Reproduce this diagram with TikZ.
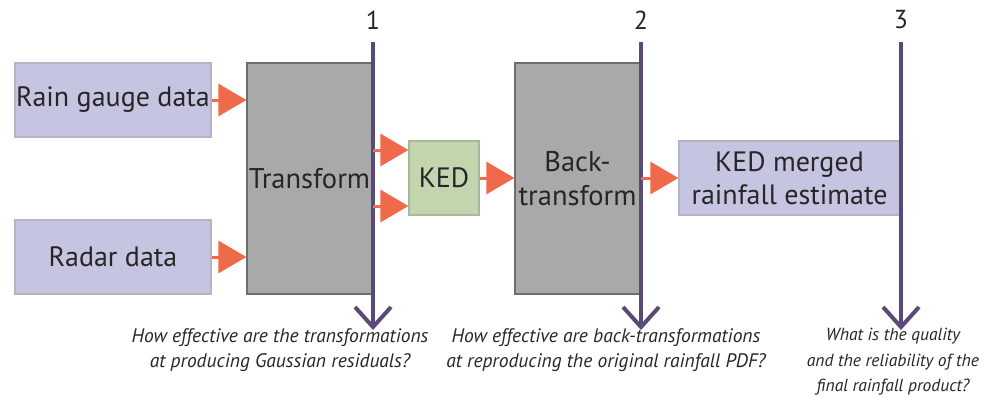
\documentclass[tikz,border=0pt]{standalone}
\usepackage{fontspec}
\setmainfont{PT Sans}
\usetikzlibrary{arrows.meta}
\definecolor{lav}{HTML}{C5C5E2}
\definecolor{lavb}{HTML}{B4B4C4}
\definecolor{grayf}{HTML}{A9A9A9}
\definecolor{grayb}{HTML}{6E6E6E}
\definecolor{grn}{HTML}{C2D5AE}
\definecolor{grnb}{HTML}{A8B69A}
\definecolor{org}{HTML}{EE6A4B}
\definecolor{prp}{HTML}{5A4A78}
\begin{document}
\begin{tikzpicture}[x=1pt,y=-1pt,
  databox/.style={draw=lavb,line width=1.2pt,fill=lav,minimum width=196pt,minimum height=74pt,inner sep=0pt,font=\fontsize{28}{33}\selectfont,text=black!85},
  procbox/.style={draw=grayb,line width=1.2pt,fill=grayf,minimum width=125pt,minimum height=231pt,inner sep=0pt,align=center,font=\fontsize{28.5}{34}\selectfont,text=black!85},
  kedbox/.style={draw=grnb,line width=1.2pt,fill=grn,minimum width=70pt,minimum height=74pt,inner sep=0pt,font=\fontsize{28}{33}\selectfont,text=black!85},
  outbox/.style={draw=lavb,line width=1.2pt,fill=lav,minimum width=221pt,minimum height=74pt,inner sep=0pt,align=center,font=\fontsize{28}{33}\selectfont,text=black!85},
  flow/.style={draw=org,line width=3pt,-{Triangle[length=28pt,width=32pt]},shorten >=0pt},
  checkline/.style={draw=prp,line width=4pt,-{Straight Barb[length=20pt,width=36pt,line width=4pt]}},
  numlabel/.style={font=\fontsize{26}{30}\selectfont,text=black!85},
  question/.style={align=center,font=\fontsize{19.5}{25.5}\selectfont\itshape,text=black!85}
]
\useasboundingbox (0,0) rectangle (987,397);
\node[databox] (rg) at (113,100) {Rain gauge data};
\node[databox] (rad) at (113,257) {Radar data};
\node[procbox] (tr) at (309.5,178.5) {Transform};
\node[kedbox] (ked) at (444,178) {KED};
\node[procbox] (bt) at (577.5,178.5) {Back-\\transform};
\node[outbox] (out) at (789.5,178) {KED merged\\rainfall estimate};
% check lines
\coordinate (t1) at (373,42); \coordinate (b1) at (373,330);
\coordinate (t2) at (641,42); \coordinate (b2) at (641,330);
\coordinate (t3) at (901,42); \coordinate (b3) at (901,330);
\draw[checkline] (t1) -- (b1);
\draw[checkline] (t2) -- (b2);
\draw[checkline] (t3) -- (b3);
\node[numlabel] (n1) at (373,20) {1};
\node[numlabel] (n2) at (641,20) {2};
\node[numlabel] (n3) at (901,20) {3};
% flows
\draw[flow] (rg.east) -- (tr.west |- rg.east);
\draw[flow] (rad.east) -- (tr.west |- rad.east);
\coordinate (k1) at (373,150); \coordinate (k2) at (373,206);
\draw[flow] (k1) -- (ked.west |- k1);
\draw[flow] (k2) -- (ked.west |- k2);
\draw[flow] (ked.east) -- (bt.west |- ked.east);
\coordinate (k3) at (641,178);
\draw[flow] (k3) -- (out.west);
% questions
\node[question,anchor=north] (q1) at (280,325) {How effective are the transformations\\at producing Gaussian residuals?};
\node[question,anchor=north] (q2) at (606,325) {How effective are back-transformations\\at reproducing the original rainfall PDF?};
\node[question,anchor=north,font=\fontsize{17.5}{25.5}\selectfont\itshape] (q3) at (893,325) {What is the quality\\and the reliability of the\\final rainfall product?};
\end{tikzpicture}
\end{document}
